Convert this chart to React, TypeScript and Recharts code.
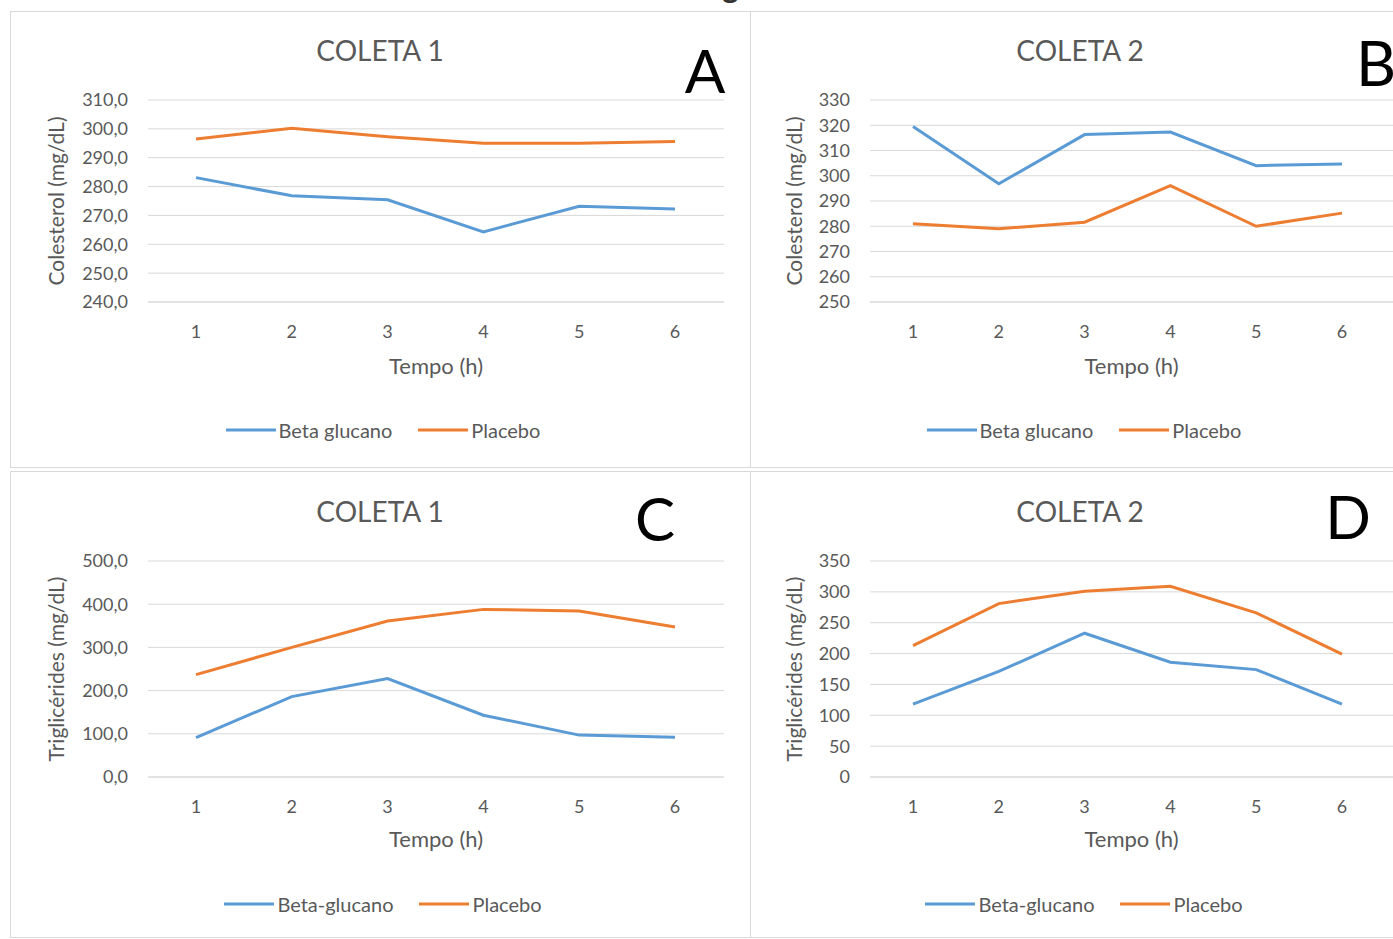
import { LineChart, Line, XAxis, YAxis, CartesianGrid, Legend } from "recharts"

const tempos = ["1", "2", "3", "4", "5", "6"]

// Colesterol (mg/dL)
const colesterolColeta1Beta = [283.1, 276.8, 275.4, 264.3, 273.2, 272.2]
const colesterolColeta1Placebo = [296.5, 300.2, 297.3, 295.0, 295.0, 295.6]
const colesterolColeta2Beta = [319.5, 296.8, 316.3, 317.3, 304.0, 304.7]
const colesterolColeta2Placebo = [281.0, 279.0, 281.6, 296.1, 280.0, 285.2]

// Triglicérides (mg/dL)
const trigColeta1Beta = [91, 186, 228, 143, 97, 92]
const trigColeta1Placebo = [237, 300, 361, 388, 384, 347]
const trigColeta2Beta = [118, 171, 233, 186, 174, 118]
const trigColeta2Placebo = [213, 281, 301, 309, 266, 199]

const ticksColeta1Col = [240, 250, 260, 270, 280, 290, 300, 310]
const ticksColeta2Col = [250, 260, 270, 280, 290, 300, 310, 320, 330]
const ticksColeta1Trig = [0, 100, 200, 300, 400, 500]
const ticksColeta2Trig = [0, 50, 100, 150, 200, 250, 300, 350]

const BLUE = "#5B9BD5"
const ORANGE = "#ED7D31"
const GREY = "#595959"
const GRID = "#D9D9D9"
const FONT = "Lato, 'Open Sans', sans-serif"

const buildRows = (beta: number[], placebo: number[]) =>
    tempos.map((t, i) => ({ t, beta: beta[i], placebo: placebo[i] }))

const comma1 = (v: number) => v.toFixed(1).replace(".", ",")
const plain = (v: number) => String(v)

function LegendContent({ betaLabel }: { betaLabel: string }) {
    const item = (color: string, label: string) => (
        <div style={{ display: "flex", alignItems: "center" }}>
            <svg width={50} height={4} style={{ marginRight: 3 }}>
                <line x1={0} y1={2} x2={50} y2={2} stroke={color} strokeWidth={3} />
            </svg>
            <span style={{ color: GREY, fontSize: 20, fontFamily: FONT }}>{label}</span>
        </div>
    )
    return (
        <div style={{ display: "flex", justifyContent: "center", gap: 26 }}>
            {item(BLUE, betaLabel)}
            {item(ORANGE, "Placebo")}
        </div>
    )
}

interface PanelProps {
    left: number
    top: number
    width: number
    height: number
    plotLeft: number
    plotTop: number
    plotRight: number
    plotBottom: number
    padL: number
    padR: number
    beta: number[]
    placebo: number[]
    ticks: number[]
    fmt: (v: number) => string
    yLabel: string
    yLabelOffset: number
    tempoOffset: number
    legendCenter: number
    legendTop: number
    betaLabel: string
}

function Panel(p: PanelProps) {
    const yAxisWidth = 100
    const xAxisHeight = 80
    const data = buildRows(p.beta, p.placebo)
    const margin = {
        top: p.plotTop - p.top,
        left: p.plotLeft - p.left - yAxisWidth,
        right: p.left + p.width - p.plotRight,
        bottom: p.top + p.height - p.plotBottom - xAxisHeight,
    }
    return (
        <div style={{ position: "absolute", left: p.left, top: p.top }}>
            <LineChart width={p.width} height={p.height} data={data} margin={margin}>
                <CartesianGrid vertical={false} stroke={GRID} strokeWidth={1} />
                <XAxis
                    dataKey="t"
                    height={xAxisHeight}
                    padding={{ left: p.padL, right: p.padR }}
                    axisLine={{ stroke: GRID }}
                    tickLine={false}
                    tickSize={6}
                    tickMargin={17}
                    tick={{ fill: GREY, fontSize: 18, fontFamily: FONT }}
                    label={{
                        value: "Tempo (h)",
                        position: "insideBottom",
                        offset: p.tempoOffset,
                        fill: GREY,
                        fontSize: 22,
                        fontFamily: FONT,
                    }}
                />
                <YAxis
                    width={yAxisWidth}
                    domain={[p.ticks[0], p.ticks[p.ticks.length - 1]]}
                    ticks={p.ticks}
                    interval={0}
                    axisLine={false}
                    tickLine={false}
                    tickSize={6}
                    tickMargin={14}
                    tickFormatter={p.fmt}
                    tick={{ fill: GREY, fontSize: 18, fontFamily: FONT }}
                    label={{
                        value: p.yLabel,
                        angle: -90,
                        position: "insideLeft",
                        offset: p.yLabelOffset,
                        fill: GREY,
                        fontSize: 21,
                        fontFamily: FONT,
                        style: { textAnchor: "middle" },
                    }}
                />
                <Legend
                    layout="horizontal"
                    verticalAlign="middle"
                    align="center"
                    wrapperStyle={{
                        left: p.legendCenter - p.left - 200,
                        width: 400,
                        top: p.legendTop - p.top,
                    }}
                    content={() => <LegendContent betaLabel={p.betaLabel} />}
                />
                <Line
                    type="linear"
                    dataKey="beta"
                    name={p.betaLabel}
                    stroke={BLUE}
                    strokeWidth={3}
                    dot={false}
                    isAnimationActive={false}
                />
                <Line
                    type="linear"
                    dataKey="placebo"
                    name="Placebo"
                    stroke={ORANGE}
                    strokeWidth={3}
                    dot={false}
                    isAnimationActive={false}
                />
            </LineChart>
        </div>
    )
}

function Text({ x, y, size, color, children }: { x: number; y: number; size: number; color: string; children: string }) {
    return (
        <div
            style={{
                position: "absolute",
                left: x,
                top: y,
                transform: "translate(-50%, -50%)",
                fontSize: size,
                lineHeight: 1,
                color,
                fontFamily: FONT,
                whiteSpace: "nowrap",
            }}
        >
            {children}
        </div>
    )
}

const box = (left: number, top: number, width: number, height: number) => (
    <div
        style={{
            position: "absolute",
            left,
            top,
            width,
            height,
            border: `1px solid ${GRID}`,
            boxSizing: "border-box",
        }}
    />
)

export default function App() {
    return (
        <div
            style={{
                position: "absolute",
                left: 0,
                top: 0,
                width: 1393,
                height: 939,
                overflow: "hidden",
                background: "#fff",
            }}
        >
            {/* bottom of the figure title glyph, cut off by the crop */}
            <div
                style={{
                    position: "absolute",
                    left: 722,
                    top: -30,
                    fontSize: 32,
                    lineHeight: 1,
                    fontWeight: 700,
                    color: "#333",
                    fontFamily: FONT,
                }}
            >
                g
            </div>

            {box(10, 11, 741, 457)}
            {box(750, 11, 660, 457)}
            {box(10, 471, 741, 467)}
            {box(750, 471, 660, 467)}

            <Panel
                left={11} top={12} width={739} height={455}
                plotLeft={148} plotTop={100} plotRight={724} plotBottom={302}
                padL={48} padR={49}
                beta={colesterolColeta1Beta} placebo={colesterolColeta1Placebo}
                ticks={ticksColeta1Col} fmt={comma1}
                yLabel="Colesterol (mg/dL)" yLabelOffset={9} tempoOffset={8}
                legendCenter={383} legendTop={418} betaLabel="Beta glucano"
            />
            <Panel
                left={752} top={12} width={641} height={455}
                plotLeft={870} plotTop={100} plotRight={1393} plotBottom={302}
                padL={43} padR={51}
                beta={colesterolColeta2Beta} placebo={colesterolColeta2Placebo}
                ticks={ticksColeta2Col} fmt={plain}
                yLabel="Colesterol (mg/dL)" yLabelOffset={25} tempoOffset={8}
                legendCenter={1084} legendTop={418} betaLabel="Beta glucano"
            />
            <Panel
                left={11} top={472} width={739} height={465}
                plotLeft={148} plotTop={561} plotRight={724} plotBottom={777}
                padL={48} padR={49}
                beta={trigColeta1Beta} placebo={trigColeta1Placebo}
                ticks={ticksColeta1Trig} fmt={comma1}
                yLabel="Triglicérides (mg/dL)" yLabelOffset={9} tempoOffset={10}
                legendCenter={383} legendTop={892} betaLabel="Beta-glucano"
            />
            <Panel
                left={752} top={472} width={641} height={465}
                plotLeft={870} plotTop={561} plotRight={1393} plotBottom={777}
                padL={43} padR={51}
                beta={trigColeta2Beta} placebo={trigColeta2Placebo}
                ticks={ticksColeta2Trig} fmt={plain}
                yLabel="Triglicérides (mg/dL)" yLabelOffset={25} tempoOffset={10}
                legendCenter={1084} legendTop={892} betaLabel="Beta-glucano"
            />

            <Text x={380} y={50} size={28} color={GREY}>COLETA 1</Text>
            <Text x={1080} y={50} size={28} color={GREY}>COLETA 2</Text>
            <Text x={380} y={511} size={28} color={GREY}>COLETA 1</Text>
            <Text x={1080} y={511} size={28} color={GREY}>COLETA 2</Text>

            <Text x={705} y={70} size={60} color="#000">A</Text>
            <Text x={1376} y={62} size={62} color="#000">B</Text>
            <Text x={655} y={518} size={60} color="#000">C</Text>
            <Text x={1348} y={516} size={60} color="#000">D</Text>
        </div>
    )
}
